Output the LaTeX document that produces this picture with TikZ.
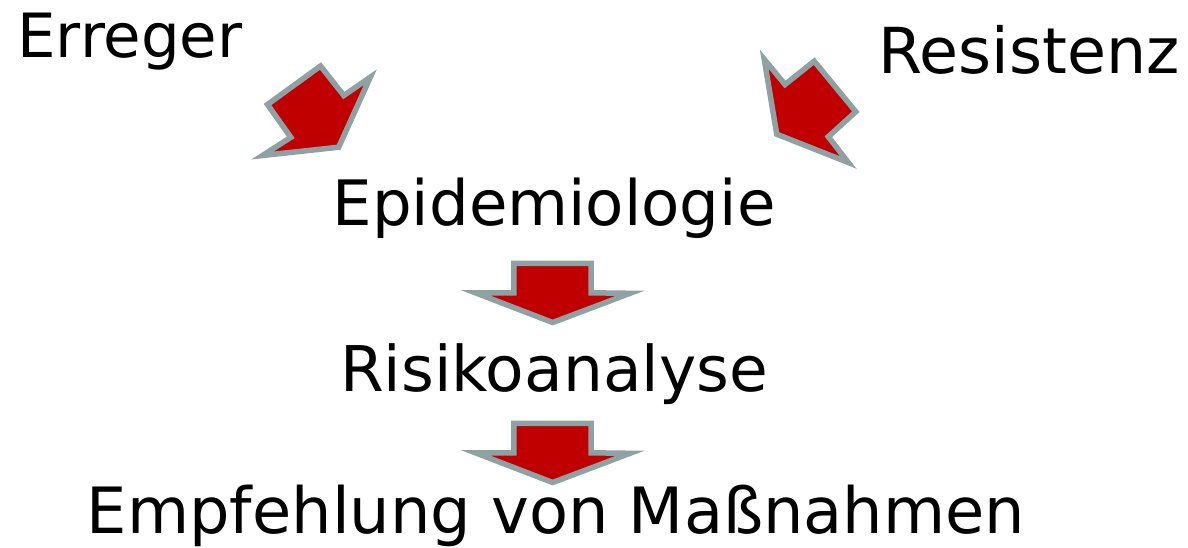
\documentclass[tikz,border=0pt]{standalone}
\usepackage{fontspec}
\setmainfont{DejaVu Sans}
\definecolor{arrowred}{RGB}{192,0,0}
\definecolor{arrowgray}{RGB}{142,162,164}
\tikzset{
  blockarrow/.style={draw=arrowgray, fill=arrowred, line width=5.5pt, line join=miter, miter limit=10},
  label/.style={anchor=base, inner sep=0pt, outer sep=0pt, text=black},
}
\newcommand{\fsz}[1]{\fontsize{#1}{#1}\selectfont}
\begin{document}
\begin{tikzpicture}[x=1pt, y=-1pt]
\useasboundingbox (0,0) rectangle (1188,547);
% labels
\node[label, font=\fsz{61}] (erreger) at (130,57) {Erreger};
\node[label, font=\fsz{63.4}] (resistenz) at (1029,73.3) {Resistenz};
\node[label, font=\fsz{62.6}] (epi) at (554,225) {Epidemiologie};
\node[label, font=\fsz{63}] (risiko) at (554,391.7) {Risikoanalyse};
\node[label, font=\fsz{63.8}] (empf) at (556,533) {Empfehlung von Maßnahmen};
% diagonal arrow from Erreger
\draw[blockarrow] (267.5,104.5) -- (320.5,66) -- (343.8,95.5) -- (370.3,77.2)
  -- (338.7,147.2) -- (262.5,155.5) -- (290.8,137.3) -- cycle;
% diagonal arrow from Resistenz
\draw[blockarrow] (764.2,59.2) -- (785,84.5) -- (814.2,61.2) -- (855.8,111.7)
  -- (828.3,136.7) -- (848.3,162.5) -- (776.7,134.2) -- cycle;
% down arrows
\foreach \dy in {0,160}{
  \draw[blockarrow] (513.9,263.4+\dy) -- (591.2,263.4+\dy) -- (591.2,292.8+\dy)
    -- (630,293.3+\dy) -- (552.7,322.5+\dy) -- (475.5,292.8+\dy)
    -- (513.9,292.8+\dy) -- cycle;
}
\end{tikzpicture}
\end{document}
